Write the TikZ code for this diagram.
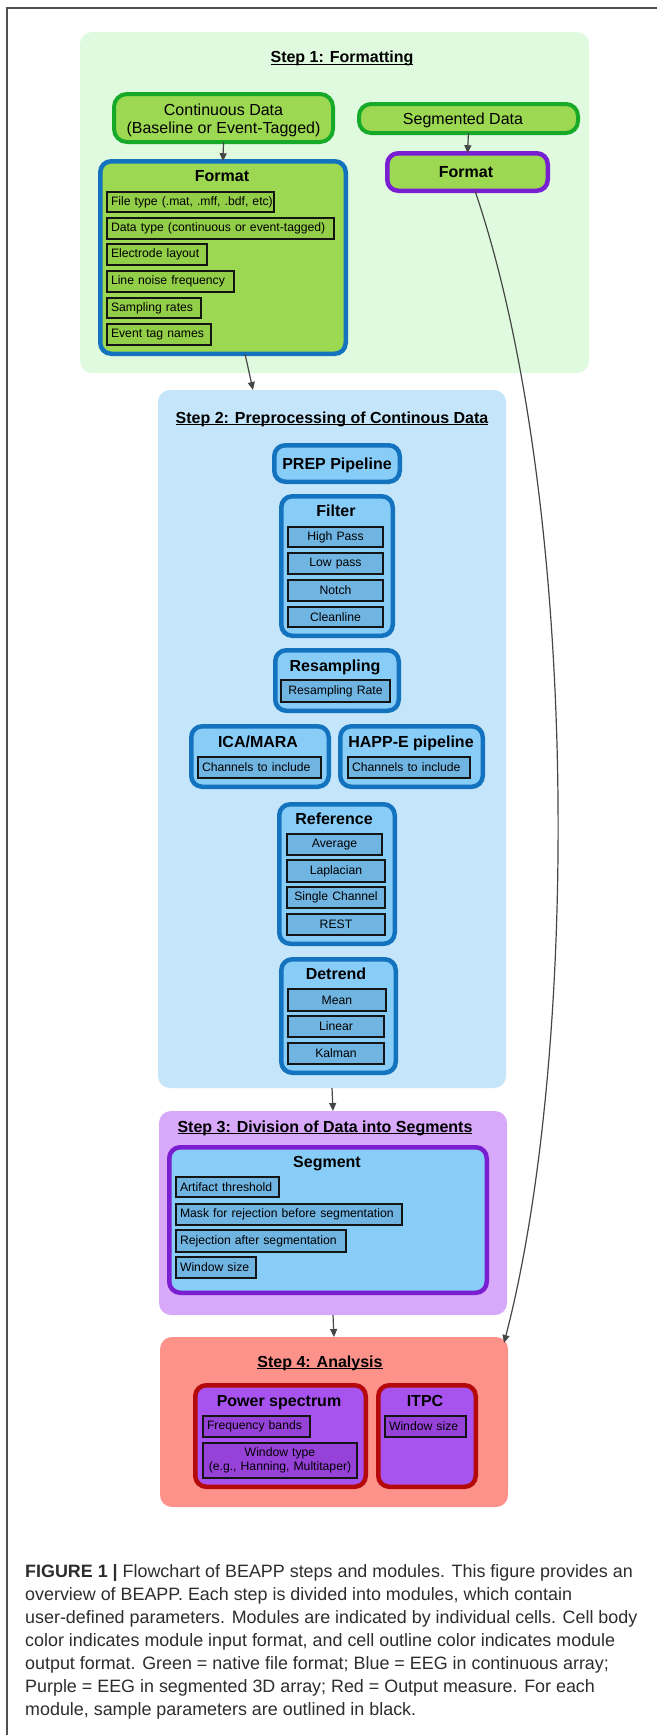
\documentclass[tikz,border=0pt]{standalone}
\usepackage{fontspec}
\setmainfont{Liberation Sans}
\usetikzlibrary{arrows.meta}
\definecolor{sonefill}{RGB}{224,250,224}
\definecolor{stwofill}{RGB}{197,230,250}
\definecolor{sthreefill}{RGB}{216,168,250}
\definecolor{sfourfill}{RGB}{252,146,138}
\definecolor{gfill}{RGB}{156,216,82}
\definecolor{gparam}{RGB}{146,206,72}
\definecolor{gline}{RGB}{22,170,40}
\definecolor{bline}{RGB}{20,115,190}
\definecolor{bfill}{RGB}{136,204,248}
\definecolor{bparam}{RGB}{112,180,226}
\definecolor{pline}{RGB}{122,30,210}
\definecolor{pfill}{RGB}{168,82,240}
\definecolor{pparam}{RGB}{150,66,216}
\definecolor{rline}{RGB}{180,10,10}
\definecolor{arrcol}{RGB}{70,70,70}
\definecolor{captcol}{RGB}{45,45,45}
\definecolor{framecol}{RGB}{80,80,80}
\definecolor{prmline}{RGB}{20,20,20}
\newcommand\ulx[1]{\setbox0\hbox{#1}\leavevmode\rlap{\vrule height -1.0pt depth 2.3pt width \wd0}\box0}
% Rbox: style, name, x1, y1, x2, y2, inset (outer coordinates in px)
\newcommand\Rbox[7]{%
  \pgfmathsetmacro\rbw{#5-#3-2*#7}%
  \pgfmathsetmacro\rbh{#6-#4-2*#7}%
  \node[#1, anchor=north west, minimum width=\rbw pt, minimum height=\rbh pt,
        inner sep=0pt, outer sep=0pt] (#2) at ({#3+#7},{#4+#7}) {};}
% Prm: style, name, x1, y1, x2, y2, text
\newcommand\Prm[7]{%
  \pgfmathsetmacro\rbw{#5-#3-2}%
  \pgfmathsetmacro\rbh{#6-#4-2}%
  \pgfmathsetmacro\rbt{#5-#3-10}%
  \node[#1, anchor=north west, minimum width=\rbw pt, minimum height=\rbh pt,
        text width=\rbt pt, inner xsep=4pt, inner ysep=0pt, outer sep=0pt]
        (#2) at ({#3+1},{#4+1}) {\mbox{#7}};}
\begin{document}
\begin{tikzpicture}[x=1pt,y=-1pt,
  stp/.style={rounded corners=12pt, draw=none},
  mod/.style={line width=4.5pt, rounded corners=11pt},
  dat/.style={line width=4pt, draw=gline, fill=gfill, rounded corners=13pt},
  prm/.style={draw=prmline, line width=2pt, font=\fontsize{12.2}{14.5}\selectfont},
  prmL/.style={prm, align=left},
  prmC/.style={prm, align=center},
  ttl/.style={font=\bfseries\fontsize{16}{19}\selectfont, inner sep=0pt, anchor=base},
  mtl/.style={font=\bfseries\fontsize{16}{19}\selectfont, inner sep=0pt, anchor=base},
  dtx/.style={font=\fontsize{16}{19}\selectfont, inner sep=0pt, anchor=base},
  captxt/.style={font=\fontsize{17.9}{23}\selectfont, text=captcol, inner sep=0pt, anchor=base west},
  arr/.style={draw=arrcol, line width=1.2pt, -{Triangle[length=8pt,width=7pt]}}]
\useasboundingbox (0,0) rectangle (657,1735);
\fill[white] (0,0) rectangle (657,1735);
% frame
\draw[framecol, line width=1.2pt] (7,1735) -- (7,8) -- (657,8);

% step boxes
\Rbox{stp, fill=sonefill}{s1}{80}{32}{589}{373}{0}
\Rbox{stp, fill=stwofill}{s2}{158}{390}{506}{1088}{0}
\Rbox{stp, fill=sthreefill}{s3}{159}{1111}{507}{1315}{0}
\Rbox{stp, fill=sfourfill}{s4}{160}{1337}{508}{1507}{0}

\node[ttl] (t1) at (342,62.5) {\ulx{Step 1: Formatting}};
\node[ttl] (t2) at (332,423) {\ulx{Step 2: Preprocessing of Continous Data}};
\node[ttl] (t3) at (325,1132) {\ulx{Step 3: Division of Data into Segments}};
\node[ttl] (t4) at (320,1367) {\ulx{Step 4: Analysis}};

% Step 1
\Rbox{dat}{cd}{112}{92}{335}{144}{2}
\node[dtx] (cdt1) at (223.5,115) {Continuous Data};
\node[dtx] (cdt2) at (223.5,133) {(Baseline or Event-Tagged)};
\Rbox{dat, rounded corners=12pt}{sd}{357}{102}{580}{135}{2}
\node[dtx] (sdt) at (463,124) {Segmented Data};

\Rbox{mod, draw=bline, fill=gfill}{fmt1}{98}{159}{348}{356}{2.25}
\node[mtl] (fmt1t) at (222,181) {Format};
\Prm{prmL, fill=gparam}{p11}{106}{191}{275}{213}{File type (.mat, .mff, .bdf, etc)}
\Prm{prmL, fill=gparam}{p12}{106}{217}{335}{240}{Data type (continuous or event-tagged)}
\Prm{prmL, fill=gparam}{p13}{106}{243}{208}{266}{Electrode layout}
\Prm{prmL, fill=gparam}{p14}{106}{270}{235}{293}{Line noise frequency}
\Prm{prmL, fill=gparam}{p15}{106}{297}{202}{319}{Sampling rates}
\Prm{prmL, fill=gparam}{p16}{106}{323}{212}{346}{Event tag names}

\Rbox{mod, draw=pline, fill=gfill}{fmt2}{385}{151}{550}{193}{2.25}
\node[mtl] (fmt2t) at (466,177) {Format};

% Step 2
\Rbox{mod, draw=bline, fill=bfill}{prep}{272}{443}{402}{484}{2.25}
\node[mtl] (prept) at (337,469) {PREP Pipeline};

\Rbox{mod, draw=bline, fill=bfill}{filt}{279}{494}{395}{638}{2.25}
\node[mtl] (filtt) at (336,516.5) {Filter};
\Prm{prmC, fill=bparam}{p21}{287}{526}{384}{548}{High Pass}
\Prm{prmC, fill=bparam}{p22}{287}{552}{384}{575}{Low pass}
\Prm{prmC, fill=bparam}{p23}{287}{579}{384}{602}{Notch}
\Prm{prmC, fill=bparam}{p24}{287}{606}{384}{628}{Cleanline}

\Rbox{mod, draw=bline, fill=bfill}{resm}{273}{648}{401}{713}{2.25}
\node[mtl] (resmt) at (335,671) {Resampling};
\Prm{prmC, fill=bparam}{p25}{280}{679}{391}{703}{Resampling Rate}

\Rbox{mod, draw=bline, fill=bfill}{ica}{189}{724}{331}{789}{2.25}
\node[mtl] (icat) at (258,747) {ICA/MARA};
\Prm{prmL, fill=bparam}{p26}{197}{756}{322}{779}{Channels to include}

\Rbox{mod, draw=bline, fill=bfill}{happ}{338}{724}{485}{789}{2.25}
\node[mtl] (happt) at (411,747) {HAPP-E pipeline};
\Prm{prmL, fill=bparam}{p27}{347}{756}{471}{779}{Channels to include}

\Rbox{mod, draw=bline, fill=bfill}{refm}{277}{802}{397}{946}{2.25}
\node[mtl] (refmt) at (334,824) {Reference};
\Prm{prmC, fill=bparam}{p28}{286}{833}{383}{856}{Average}
\Prm{prmC, fill=bparam}{p29}{286}{859}{386}{883}{Laplacian}
\Prm{prmC, fill=bparam}{p210}{286}{886}{386}{909}{Single Channel}
\Prm{prmC, fill=bparam}{p211}{286}{913}{386}{936}{REST}

\Rbox{mod, draw=bline, fill=bfill}{detr}{279}{957}{398}{1075}{2.25}
\node[mtl] (detrt) at (336,979) {Detrend};
\Prm{prmC, fill=bparam}{p212}{287}{988}{387}{1012}{Mean}
\Prm{prmC, fill=bparam}{p213}{287}{1015}{385}{1038}{Linear}
\Prm{prmC, fill=bparam}{p214}{287}{1042}{385}{1065}{Kalman}

% Step 3
\Rbox{mod, draw=pline, fill=bfill}{segm}{167}{1145}{489}{1295}{2.25}
\node[mtl] (segmt) at (327,1167) {Segment};
\Prm{prmL, fill=bparam}{p31}{175}{1176}{280}{1198}{Artifact threshold}
\Prm{prmL, fill=bparam}{p32}{175}{1203}{403}{1226}{Mask for rejection before segmentation}
\Prm{prmL, fill=bparam}{p33}{175}{1229}{347}{1253}{Rejection after segmentation}
\Prm{prmL, fill=bparam}{p34}{175}{1256}{257}{1279}{Window size}

% Step 4
\Rbox{mod, draw=rline, fill=pfill}{pows}{193}{1383}{368}{1489}{2.25}
\node[mtl] (powst) at (279,1406) {Power spectrum};
\Prm{prmL, fill=pparam}{p41}{202}{1415}{311}{1438}{Frequency bands}
\Prm{prmC, fill=pparam}{p42}{202}{1442}{358}{1479}{\begin{tabular}{@{}c@{}}Window type\\[-1pt](e.g., Hanning, Multitaper)\end{tabular}}

\Rbox{mod, draw=rline, fill=pfill}{itpc}{376}{1383}{478}{1489}{2.25}
\node[mtl] (itpct) at (425,1406) {ITPC};
\Prm{prmL, fill=pparam}{p43}{384}{1415}{467}{1438}{Window size}

% connectors
\draw[arr] (cd.south) -- (fmt1.north);
\draw[arr] (sd.south) -- (fmt2.north);
\draw[arr] ([xshift=22pt]fmt1.south) -- ([xshift=-79pt]s2.north);
\draw[arr] (s2.south) -- (s3.north);
\draw[arr] (s3.south) -- (s4.north);
\draw[arr] ([xshift=7.5pt]fmt2.south) .. controls (580,500) and (580,1050) .. ([xshift=-4pt,yshift=-6pt]s4.north east);

% caption
\node[captxt] (c1) at (25,1577.5) {\textbf{FIGURE 1 |} Flowchart of BEAPP steps and modules. This figure provides an};
\node[captxt] (c2) at (25,1600.5) {overview of BEAPP. Each step is divided into modules, which contain};
\node[captxt] (c3) at (25,1623.5) {user-defined parameters. Modules are indicated by individual cells. Cell body};
\node[captxt] (c4) at (25,1646.5) {color indicates module input format, and cell outline color indicates module};
\node[captxt] (c5) at (25,1669.5) {output format. Green = native file format; Blue = EEG in continuous array;};
\node[captxt] (c6) at (25,1692.5) {Purple = EEG in segmented 3D array; Red = Output measure. For each};
\node[captxt] (c7) at (25,1715.5) {module, sample parameters are outlined in black.};
\end{tikzpicture}
\end{document}
